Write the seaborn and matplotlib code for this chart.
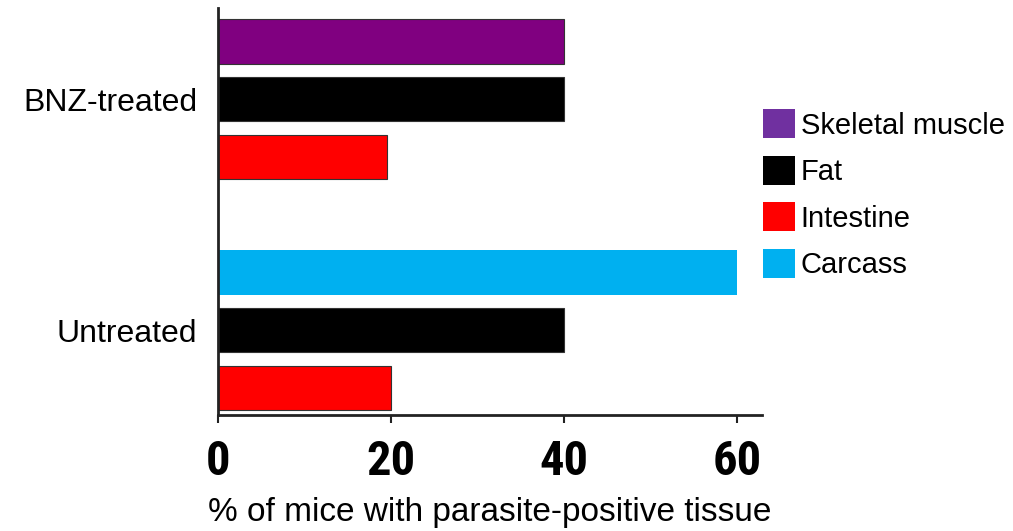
import numpy as np
import pandas as pd
import seaborn as sns
import matplotlib.pyplot as plt
from matplotlib.patches import Patch
from matplotlib import font_manager

# Data
groups = ["BNZ-treated", "Untreated"]
bnz_tissues = ["Skeletal muscle", "Fat", "Intestine"]
bnz_values = [40, 40, 19.5]
untreated_tissues = ["Carcass", "Fat", "Intestine"]
untreated_values = [60, 40, 20]

legend_order = ["Skeletal muscle", "Fat", "Intestine", "Carcass"]
bar_colors = {"Skeletal muscle": "#800080", "Fat": "#000000",
              "Intestine": "#FF0000", "Carcass": "#00B0F0"}
legend_colors = {"Skeletal muscle": "#7030A0", "Fat": "#000000",
                 "Intestine": "#FF0000", "Carcass": "#00B0F0"}

# build a long table; each group takes 3 slots plus one empty slot
rows = []
for g, (tissues, values) in enumerate([(bnz_tissues, bnz_values),
                                      (untreated_tissues, untreated_values)]):
    for i, (t, v) in enumerate(zip(tissues, values)):
        rows.append({"group": groups[g], "tissue": t, "value": v, "pos": g * 4 + i})
df = pd.DataFrame(rows)

sns.set_style("white")
plt.rcParams['font.family'] = ['Liberation Sans', 'DejaVu Sans']
plt.rcParams['text.color'] = 'black'
plt.rcParams['axes.labelcolor'] = 'black'
plt.rcParams['xtick.color'] = 'black'
plt.rcParams['ytick.color'] = 'black'

# look for a condensed family that has a bold face, for the tick numbers
bold_narrow = []
for f in font_manager.fontManager.ttflist:
    w = f.weight if isinstance(f.weight, int) else 400
    if ("Narrow" in f.name or "Condensed" in f.name or f.stretch == "condensed") and w >= 600:
        bold_narrow.append(f.name)
pref = ["Liberation Sans Narrow", "Roboto Condensed", "DejaVu Sans Condensed",
        "Open Sans Condensed"]
tick_family = [n for n in pref if n in bold_narrow] + sorted(set(bold_narrow))
tick_family = tick_family[:1] + ["Liberation Sans", "DejaVu Sans"]

fig = plt.figure(figsize=(10.13, 5.31), dpi=100)
ax = fig.add_axes([0.2152, 0.2185, 0.752 - 0.2152, 0.985 - 0.2185])

sns.barplot(data=df, x="value", y="pos", hue="tissue", palette=bar_colors,
            orient="h", native_scale=True, dodge=False, width=0.77,
            saturation=1, legend=False, ax=ax)

# thin dark outline on bars (carcass has none)
for bar in ax.patches:
    fc = bar.get_facecolor()
    if np.allclose(fc[:3], (0, 0.69, 0.94), atol=0.02):
        bar.set_edgecolor(fc)
        bar.set_linewidth(0)
    else:
        bar.set_edgecolor("#333333")
        bar.set_linewidth(0.8)

ax.set_xlim(0, 62.9)
ax.set_ylim(6.47, -0.58)
ax.set_yticks([1, 5])
ax.set_yticklabels(groups, fontsize=23)
ax.tick_params(axis="y", length=0, pad=15)

ax.set_xticks([0, 20, 40, 60])
ax.set_xticklabels(["0", "20", "40", "60"], family=tick_family,
                   fontweight="bold", fontstretch="condensed", fontsize=35)
ax.tick_params(axis="x", direction="out", length=6, width=1.5, color="#222222",
               bottom=True, pad=11)
ax.set_xlabel("% of mice with parasite-positive tissue", fontsize=24, labelpad=9)
ax.set_ylabel("")

sns.despine(ax=ax)
for s in ["left", "bottom"]:
    ax.spines[s].set_linewidth(2)
    ax.spines[s].set_color("#222222")

handles = [Patch(facecolor=legend_colors[t], edgecolor="none") for t in legend_order]
fig.legend(handles, legend_order, loc="upper left",
           bbox_to_anchor=(0.753, 0.794), frameon=False, fontsize=21,
           handlelength=1.1, handleheight=1.15, handletextpad=0.2,
           labelspacing=0.55, borderpad=0, borderaxespad=0)

fig.savefig("out.png", dpi=100)
